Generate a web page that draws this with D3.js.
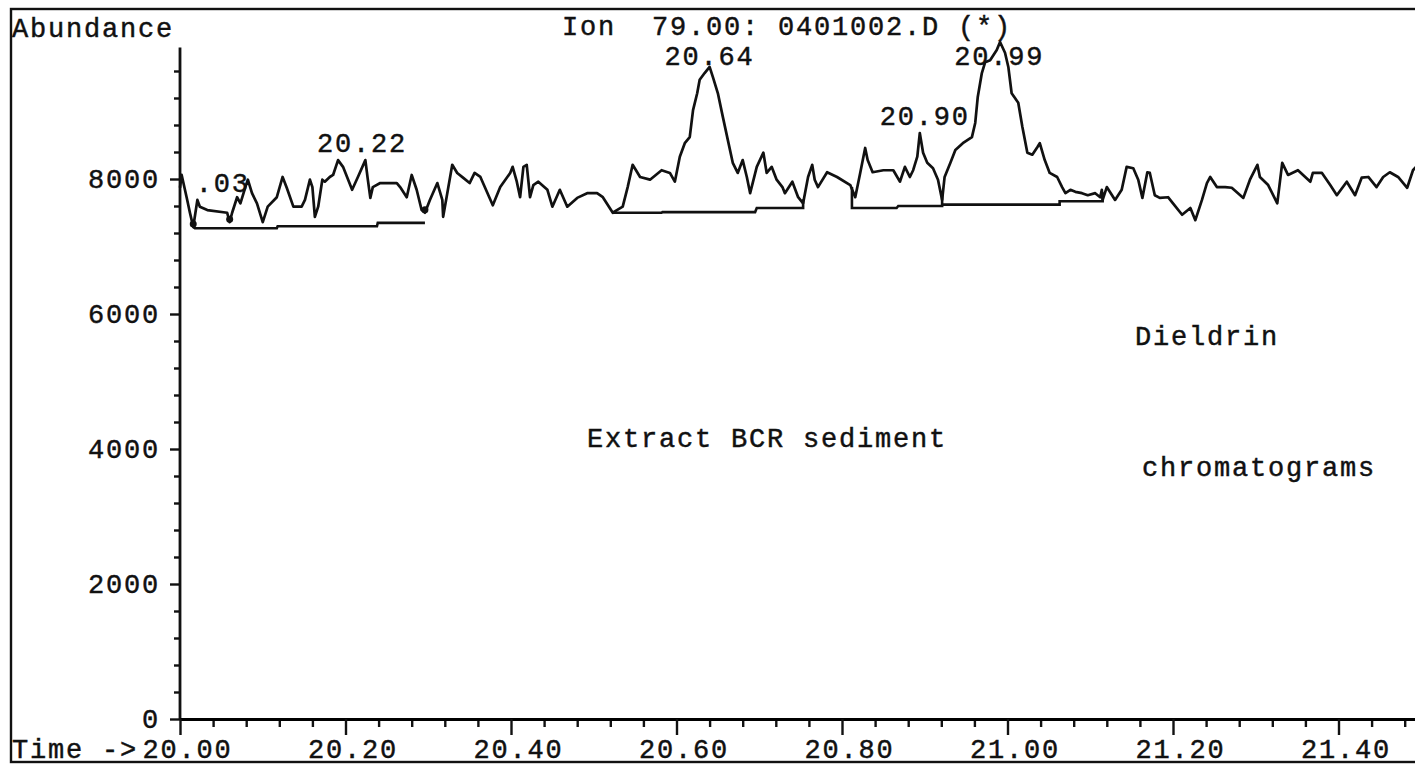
<!DOCTYPE html>
<html>
<head>
<meta charset="utf-8">
<script src="https://cdn.jsdelivr.net/npm/d3@7"></script>
<style>
  body { margin: 0; background: #fff; }
  svg text { font-family: "Liberation Mono", monospace; font-size: 27px; letter-spacing: 1.8px; fill: #111; stroke: #111; stroke-width: 0.45px; white-space: pre; }
</style>
</head>
<body>
<svg id="chart" width="1415" height="766"></svg>
<script>
// ion 79 trace
const times = [
  20.000,20.002,20.008,20.012,20.016,20.021,20.024,20.033,20.057,20.060,20.063,20.069,20.073,20.079,20.082,
  20.087,20.093,20.100,20.106,20.117,20.124,20.129,20.137,20.147,20.151,20.157,20.160,20.163,20.167,20.172,
  20.175,20.181,20.185,20.191,20.197,20.208,20.215,20.224,20.227,20.230,20.233,20.242,20.262,20.266,20.274,
  20.280,20.286,20.292,20.296,20.302,20.311,20.317,20.318,20.323,20.329,20.335,20.342,20.350,20.356,20.363,
  20.378,20.387,20.399,20.402,20.407,20.411,20.415,20.419,20.423,20.427,20.433,20.444,20.450,20.459,20.468,
  20.480,20.492,20.504,20.511,20.523,20.528,20.535,20.541,20.547,20.556,20.568,20.582,20.592,20.598,20.604,
  20.610,20.616,20.620,20.625,20.628,20.634,20.640,20.644,20.650,20.656,20.662,20.668,20.674,20.680,20.685,
  20.689,20.697,20.705,20.709,20.715,20.721,20.728,20.731,20.740,20.747,20.753,20.759,20.764,20.767,20.771,
  20.782,20.794,20.810,20.816,20.822,20.828,20.831,20.837,20.850,20.862,20.870,20.876,20.882,20.886,20.891,
  20.894,20.898,20.903,20.910,20.916,20.921,
  20.924,20.931,20.937,20.946,20.957,20.961,20.964,20.969,20.973,20.979,20.987,20.991,20.997,21.001,21.005,
  21.013,21.018,21.024,21.030,21.036,21.039,21.045,21.051,21.060,21.066,21.070,21.076,21.082,21.090,21.097,
  21.106,21.112,21.114,21.115,
  21.120,21.130,21.138,21.144,21.152,21.158,21.163,21.169,21.172,21.178,21.184,21.194,21.200,21.211,21.221,
  21.227,21.235,21.241,21.245,21.253,21.263,21.271,21.285,21.293,21.302,21.305,21.315,21.326,21.332,21.339,
  21.351,21.366,21.369,21.380,21.390,21.398,21.410,21.420,21.428,21.436,21.446,21.454,21.462,21.472,21.483,
  21.490,21.496
];
const abundance = [
  7870,8060,7730,7500,7290,7690,7590,7540,7500,7360,7500,7730,7640,7880,7990,
  7790,7640,7360,7590,7730,8030,7870,7590,7590,7690,7990,7880,7440,7590,7990,
  7960,8030,8060,8280,8180,7840,8030,8280,7990,7720,7880,7940,7940,7880,7730,
  8060,7840,7540,7500,7690,7940,7690,7440,7790,8210,8090,8020,7940,8090,8030,
  7610,7880,8090,8180,7960,7730,8180,8210,7730,7910,7960,7840,7590,7840,7590,
  7720,7790,7790,7730,7500,7540,7590,7880,8210,8030,7990,8130,8090,7960,8330,
  8530,8620,9020,9270,9470,9570,9660,9510,9270,8920,8580,8240,8090,8280,8030,
  7790,8180,8390,8090,8180,7990,7880,7790,7960,7730,7640,8030,8210,7990,7880,
  8100,8030,7910,7730,8090,8460,8280,8100,8130,8130,7960,8180,8030,8130,8330,
  8680,8390,8240,8160,7990,7690,
  8030,8240,8430,8530,8620,8830,9210,9570,9730,9760,9910,10030,9870,9660,9270,
  9130,8770,8390,8360,8470,8530,8280,8090,8030,7880,7790,7840,7810,7790,7760,
  7790,7730,7840,7690,
  7880,7690,7840,8180,8160,7990,7720,8100,8090,7760,7720,7730,7640,7470,7570,
  7390,7690,7940,8030,7880,7880,7870,7720,7990,8210,8030,7910,7640,8240,8060,
  8130,7960,8090,8090,7910,7760,7960,7760,8020,8030,7880,8030,8100,8030,7870,
  8130,8210
];

// integration baselines [time, abundance]
const baselines = [
  [[20.016,7290],[20.018,7270],[20.117,7270],[20.118,7300],[20.238,7300],[20.239,7350],[20.296,7350]],
  [[20.523,7500],[20.582,7500],[20.583,7510],[20.695,7510],[20.697,7570],[20.753,7570],[20.753,7700]],
  [[20.812,7880],[20.812,7570],[20.866,7570],[20.868,7600],[20.921,7600],[20.921,7800]],
  [[20.921,7620],[21.063,7620],[21.063,7670],[21.115,7670],[21.115,7800]]
];
const markerTimes = [20.016, 20.060, 20.296];

const peakNames = [".03", "20.22", "20.64", "20.90", "20.99"];
const peakTimes = [20.03, 20.22, 20.64, 20.90, 20.99];

const yLabelTicks = [0, 2000, 4000, 6000, 8000];
const xLabelTicks = [20.0, 20.2, 20.4, 20.6, 20.8, 21.0, 21.2, 21.4];

const titleText = "Ion  79.00: 0401002.D (*)";
const notes = ["Extract BCR sediment", "Dieldrin", "chromatograms"];

const svg = d3.select("#chart");
const pts = times.map((t, i) => ({ t, v: abundance[i] }));

const x = d3.scaleLinear().domain([20, 21.5]).range([180, 180 + 1.5 * 827.5]);
const y = d3.scaleLinear().domain([0, 10000]).range([719, 44]);
const adv = 27 * 0.6 + 1.8;

// outer frame
svg.append("rect")
  .attr("x", 11).attr("y", 9).attr("width", 1440).attr("height", 753)
  .attr("fill", "none").attr("stroke", "#111").attr("stroke-width", 2.4);

// y axis
const yMinor = d3.range(0, 10000, 400).filter(v => v % 2000 !== 0);
svg.append("g")
  .attr("transform", `translate(${x(20)},0)`)
  .call(d3.axisLeft(y).tickValues(yMinor).tickSize(6).tickFormat(""))
  .call(g => g.select(".domain").remove());
svg.append("g")
  .attr("transform", `translate(${x(20)},0)`)
  .call(d3.axisLeft(y).tickValues(yLabelTicks).tickSize(10).tickPadding(10).tickFormat(d3.format("d")))
  .call(g => g.select(".domain").remove());
svg.append("line")
  .attr("x1", x(20)).attr("x2", x(20))
  .attr("y1", y(0)).attr("y2", y(9950))
  .attr("stroke", "#111").attr("stroke-width", 2.8);

// x axis
const xMinor = d3.range(20.04, 21.5, 0.04).filter(t => Math.abs(t * 5 - Math.round(t * 5)) > 1e-6);
svg.append("g")
  .attr("transform", `translate(0,${y(0)})`)
  .call(d3.axisBottom(x).tickValues(xMinor).tickSize(8).tickFormat(""))
  .call(g => g.select(".domain").remove());
const xg = svg.append("g")
  .attr("transform", `translate(0,${y(0)})`)
  .call(d3.axisBottom(x).tickValues(xLabelTicks).tickSize(16).tickSizeOuter(0).tickFormat(d3.format(".2f")));
xg.selectAll("text").attr("y", 39).attr("dy", 0).attr("x", 7);
xg.select(".domain").attr("stroke-width", 2.8);

svg.selectAll(".tick line").attr("stroke", "#111").attr("stroke-width", 2.4);

svg.append("text").attr("x", 12).attr("y", 758).text("Time ->");
svg.append("text").attr("x", 12).attr("y", 37).text("Abundance");
svg.append("text").attr("x", 562).attr("y", 35).text(titleText);

// trace
const line = d3.line().x(d => x(d.t)).y(d => y(d.v));
svg.append("path")
  .datum(pts)
  .attr("d", line)
  .attr("fill", "none").attr("stroke", "#111")
  .attr("stroke-width", 2.7).attr("stroke-linejoin", "round");

svg.selectAll(".base")
  .data(baselines)
  .join("path")
  .attr("class", "base")
  .attr("d", d3.line().x(d => x(d[0])).y(d => y(d[1])))
  .attr("fill", "none").attr("stroke", "#111").attr("stroke-width", 2.6);

svg.selectAll(".mark")
  .data(markerTimes)
  .join("circle")
  .attr("class", "mark")
  .attr("cx", t => x(t))
  .attr("cy", t => y(d3.least(pts, p => Math.abs(p.t - t)).v) - 3)
  .attr("r", 3.5).attr("fill", "#111");

// peak labels: decimal point above the retention time
peakNames.forEach((name, i) => {
  const t = peakTimes[i];
  const apex = d3.max(pts.filter(p => Math.abs(p.t - t) <= 0.01), p => p.v);
  const dot = name.indexOf(".");
  svg.append("text")
    .attr("x", x(t) - (dot + 0.5) * adv)
    .attr("y", Math.max(y(apex) - 8, 65))
    .text(name);
});

svg.append("text").attr("x", 587).attr("y", 447).text(notes[0]);
svg.append("text").attr("x", 1135).attr("y", 345).text(notes[1]);
svg.append("text").attr("x", 1142).attr("y", 476).text(notes[2]);
</script>
</body>
</html>
